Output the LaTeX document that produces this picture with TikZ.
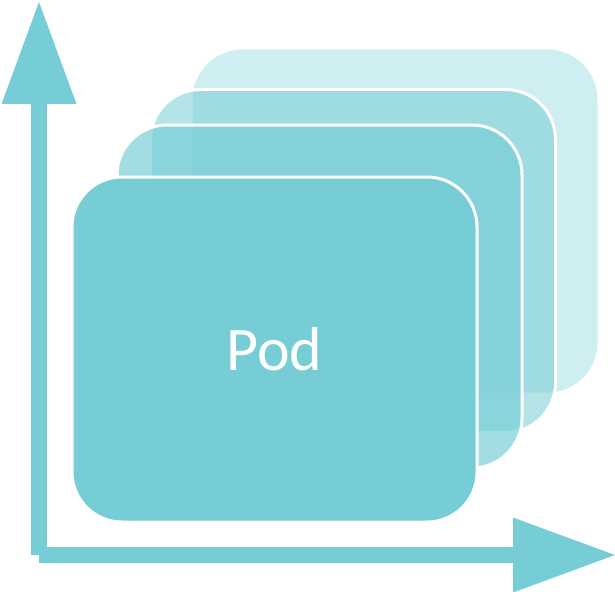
\documentclass[tikz,border=0pt]{standalone}
\usepackage{fontspec}
\setmainfont{Carlito}
\usepackage{xcolor}
\usetikzlibrary{positioning,calc,arrows.meta}

\definecolor{podteal}{RGB}{118,205,214}

\tikzset{
  podcard/.style={draw=white, line width=3pt, fill=podteal, rounded corners=50pt,
    minimum width=405pt, minimum height=343pt, inner sep=0pt},
  axis/.style={draw=podteal, line width=16pt,
    -{Triangle[length=102pt, width=75pt, line width=0pt]}}
}

\begin{document}
\begin{tikzpicture}[x=1pt, y=-1pt]
  \useasboundingbox (0,0) rectangle (615,591);

  % Axes
  \coordinate (origin) at (39,555);
  \coordinate (ytip) at (39,2);
  \coordinate (xtip) at (615,555);
  \draw[axis] (origin) -- (ytip);
  \draw[axis] (origin) -- (xtip);

  % Stacked pods, back to front
  \node[podcard, draw=none, fill opacity=0.35] (pod4) at (395,221) {};
  \node[podcard, fill opacity=0.55] (pod3) at (353,261) {};
  \node[podcard, fill opacity=0.68] (pod2) at (319.5,296.5) {};
  \node[podcard, minimum height=345pt] (pod1) at (274.5,349.5) {};
  \node[text=white, font=\fontsize{62}{74}\selectfont] (podlabel) at (pod1) {Pod};
\end{tikzpicture}
\end{document}
